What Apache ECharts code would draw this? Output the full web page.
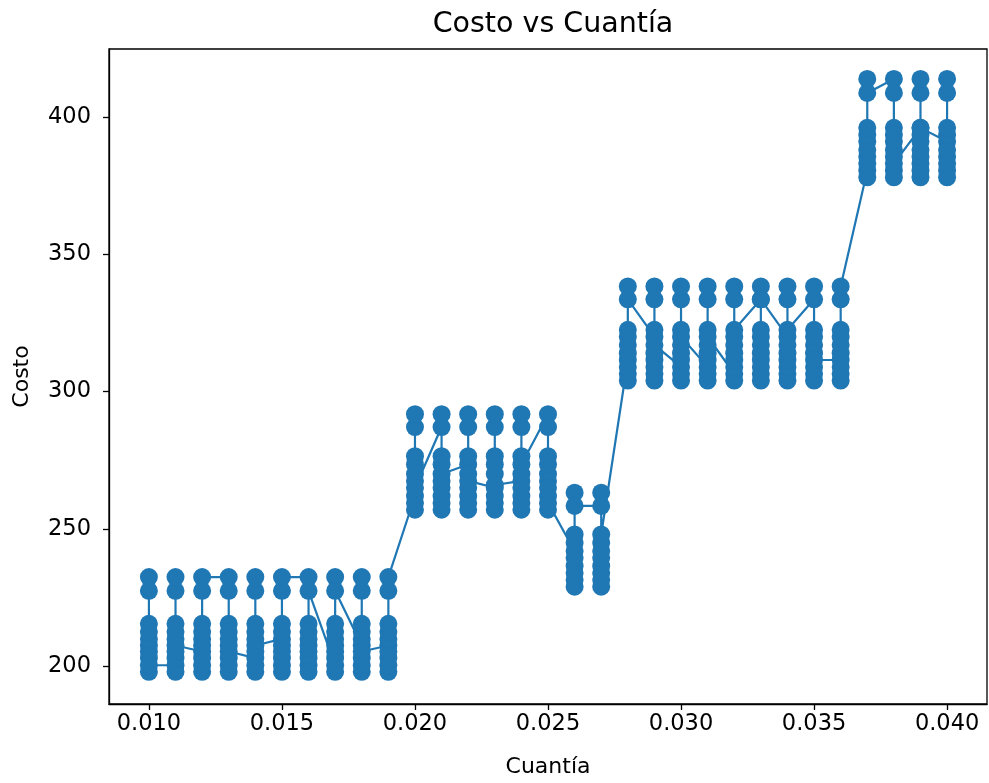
<!DOCTYPE html>
<html>
<head>
<meta charset="utf-8">
<title>Costo vs Cuantía</title>
<script src="https://cdn.jsdelivr.net/npm/echarts@6/dist/echarts.min.js"></script>
<style>
  html, body { margin: 0; padding: 0; background: #ffffff; }
  #chart { width: 989px; height: 783px; }
</style>
</head>
<body>
<div id="chart"></div>
<script>
// Reinforcement ratio (cuantía) of each design group
const cuantias = [
  0.010, 0.011, 0.012, 0.013, 0.014, 0.015, 0.016, 0.017, 0.018, 0.019,
  0.020, 0.021, 0.022, 0.023, 0.024, 0.025,
  0.026, 0.027,
  0.028, 0.029, 0.030, 0.031, 0.032, 0.033, 0.034, 0.035, 0.036,
  0.037, 0.038, 0.039, 0.040
];

// Costs evaluated for each cuantía, in evaluation order
const c010 = [198.0, 203.0, 205.4, 207.6, 210.0, 212.6, 215.5, 227.5, 232.5, 200.4];
const c011 = [200.4, 198.0, 203.0, 205.4, 210.0, 212.6, 215.5, 227.5, 232.5, 207.6];
const c012 = [205.4, 198.0, 200.4, 203.0, 207.6, 210.0, 212.6, 215.5, 227.5, 232.5];
const c013 = [232.5, 227.5, 215.5, 212.6, 210.0, 207.6, 203.0, 200.4, 198.0, 205.4];
const c014 = [203.0, 198.0, 200.4, 205.4, 210.0, 212.6, 215.5, 227.5, 232.5, 207.6];
const c015 = [210.0, 198.0, 200.4, 203.0, 205.4, 207.6, 212.6, 215.5, 227.5, 232.5];
const c016 = [232.5, 215.5, 212.6, 210.0, 207.6, 205.4, 203.0, 200.4, 198.0, 227.5];
const c017 = [200.4, 198.0, 203.0, 205.4, 207.6, 210.0, 212.6, 215.5, 232.5, 227.5];
const c018 = [207.6, 198.0, 200.4, 203.0, 210.0, 212.6, 215.5, 227.5, 232.5, 205.4];
const c019 = [207.6, 198.0, 200.4, 203.0, 205.4, 210.0, 212.6, 215.5, 227.5, 232.5];
const c020 = [262.0, 257.0, 259.5, 267.5, 270.0, 273.5, 276.5, 287.1, 291.8, 265.0];
const c021 = [287.1, 291.8, 276.5, 273.5, 267.5, 265.0, 262.0, 259.5, 257.0, 270.0];
const c022 = [273.5, 276.5, 287.1, 291.8, 270.0, 265.0, 262.0, 259.5, 257.0, 267.5];
const c023 = [265.0, 257.0, 259.5, 262.0, 270.0, 273.5, 276.5, 287.1, 291.8, 266.0];
const c024 = [267.5, 257.0, 259.5, 262.0, 265.0, 270.0, 276.5, 287.1, 291.8, 273.5];
const c025 = [291.8, 287.1, 276.5, 273.5, 270.0, 267.5, 265.0, 262.0, 257.0, 259.5];
const c026 = [242.0, 229.0, 231.5, 234.0, 236.5, 239.5, 245.0, 248.0, 263.2, 258.4];
const c027 = [258.4, 263.2, 229.0, 231.5, 234.0, 236.5, 239.5, 242.0, 245.0, 248.0];
const c028 = [311.5, 304.0, 306.5, 309.0, 314.0, 317.0, 320.0, 322.5, 338.3, 333.6];
const c029 = [320.0, 304.0, 306.5, 309.0, 311.5, 314.0, 322.5, 333.6, 338.3, 317.0];
const c030 = [309.0, 304.0, 306.5, 311.5, 314.0, 317.0, 322.5, 333.6, 338.3, 320.0];
const c031 = [309.0, 304.0, 306.5, 311.5, 314.0, 317.0, 322.5, 333.6, 338.3, 320.0];
const c032 = [306.5, 304.0, 309.0, 311.5, 314.0, 317.0, 320.0, 338.3, 333.6, 322.5];
const c033 = [333.6, 322.5, 320.0, 317.0, 314.0, 311.5, 309.0, 306.5, 304.0, 338.3, 333.6];
const c034 = [320.0, 304.0, 306.5, 309.0, 311.5, 314.0, 317.0, 333.6, 338.3, 322.5];
const c035 = [333.6, 338.3, 322.5, 320.0, 317.0, 314.0, 309.0, 306.5, 304.0, 311.5];
const c036 = [311.5, 304.0, 306.5, 309.0, 314.0, 317.0, 320.0, 322.5, 333.6, 338.3];
const c037 = [380.5, 378.0, 383.0, 385.5, 388.0, 391.0, 393.5, 396.0, 413.8, 408.7];
const c038 = [413.8, 408.7, 396.0, 393.5, 391.0, 388.0, 385.5, 380.5, 378.0, 383.0];
const c039 = [396.0, 378.0, 380.5, 383.0, 385.5, 388.0, 391.0, 393.5, 408.7, 413.8, 396.0];
const c040 = [391.0, 378.0, 380.5, 383.0, 385.5, 388.0, 393.5, 396.0, 408.7, 413.8];

const costos = [
  c010, c011, c012, c013, c014, c015, c016, c017, c018, c019,
  c020, c021, c022, c023, c024, c025,
  c026, c027,
  c028, c029, c030, c031, c032, c033, c034, c035, c036,
  c037, c038, c039, c040
];

// Tick labels
const xTicks = [0.010, 0.015, 0.020, 0.025, 0.030, 0.035, 0.040];
const yTicks = [200, 250, 300, 350, 400];

// One continuous polyline through every evaluated point
const puntos = [];
cuantias.forEach((q, i) => {
  costos[i].forEach(c => puntos.push([q, c]));
});

const FONT = 'DejaVu Sans';
const chart = echarts.init(document.getElementById('chart'), null, { renderer: 'canvas' });

chart.setOption({
  animation: false,
  backgroundColor: '#ffffff',
  title: {
    text: 'Costo vs Cuantía',
    left: 548,
    top: 5,
    textAlign: 'center',
    textStyle: { fontFamily: FONT, fontSize: 28.5, fontWeight: 'normal', color: '#000' }
  },
  grid: {
    left: 109, right: 2, top: 49, bottom: 77,
    show: true, borderColor: '#000', borderWidth: 1.3, backgroundColor: 'transparent'
  },
  xAxis: {
    type: 'value',
    min: 0.0085, max: 0.0415,
    name: 'Cuantía',
    nameLocation: 'middle',
    nameGap: 52,
    nameTextStyle: { fontFamily: FONT, fontSize: 22, color: '#000' },
    axisLine: { show: true, onZero: false, lineStyle: { color: '#000', width: 1.3 } },
    axisTick: { show: true, length: 6, customValues: xTicks, lineStyle: { color: '#000', width: 1.3 } },
    axisLabel: {
      customValues: xTicks, margin: 9,
      fontFamily: FONT, fontSize: 22.5, color: '#000',
      formatter: v => v.toFixed(3)
    },
    splitLine: { show: false }
  },
  yAxis: {
    type: 'value',
    min: 186.3, max: 424.7,
    name: 'Costo',
    nameLocation: 'middle',
    nameGap: 76,
    nameRotate: 90,
    nameTextStyle: { fontFamily: FONT, fontSize: 22, color: '#000' },
    axisLine: { show: true, onZero: false, lineStyle: { color: '#000', width: 1.3 } },
    axisTick: { show: true, length: 6, customValues: yTicks, lineStyle: { color: '#000', width: 1.3 } },
    axisLabel: {
      customValues: yTicks, margin: 18,
      fontFamily: FONT, fontSize: 22.5, color: '#000'
    },
    splitLine: { show: false }
  },
  series: [{
    type: 'line',
    data: puntos,
    symbol: 'circle',
    symbolSize: 18,
    showSymbol: true,
    showAllSymbol: true,
    lineStyle: { color: '#1f77b4', width: 2.2 },
    itemStyle: { color: '#1f77b4' },
    emphasis: { disabled: true }
  }]
});
</script>
</body>
</html>
